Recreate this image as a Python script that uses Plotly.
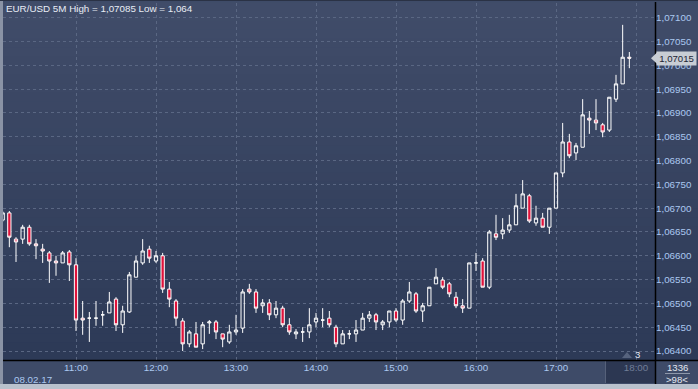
import plotly.graph_objects as go
import pandas as pd

# ---- data (EUR/USD, 5-minute candles, 08.02.17) ----
times = pd.date_range("2017-02-08 10:05", "2017-02-08 17:55", freq="5min")

open_ = [1.06675, 1.06690, 1.06635, 1.06635, 1.06660, 1.06625, 1.06614, 1.06606, 1.06589, 1.06585,
         1.06608, 1.06581, 1.06469, 1.06469, 1.06469, 1.06476, 1.06480, 1.06509, 1.06455, 1.06482,
         1.06555, 1.06585, 1.06614, 1.06589, 1.06600, 1.06530, 1.06505, 1.06463, 1.06415, 1.06436,
         1.06415, 1.06459, 1.06461, 1.06436, 1.06419, 1.06440, 1.06448, 1.06530, 1.06524, 1.06495,
         1.06501, 1.06476, 1.06490, 1.06455, 1.06436, 1.06440, 1.06440, 1.06461, 1.06465, 1.06469,
         1.06450, 1.06415, 1.06436, 1.06436, 1.06444, 1.06469, 1.06476, 1.06455, 1.06461, 1.06484,
         1.06465, 1.06505, 1.06520, 1.06484, 1.06495, 1.06541, 1.06549, 1.06541, 1.06513, 1.06495,
         1.06490, 1.06585, 1.06589, 1.06534, 1.06646, 1.06646, 1.06654, 1.06665, 1.06700, 1.06726,
         1.06669, 1.06679, 1.06660, 1.06700, 1.06774, 1.06839, 1.06816, 1.06828, 1.06889, 1.06885,
         1.06875, 1.06864, 1.06929, 1.06961, 1.07017]
high = [1.06694, 1.06694, 1.06639, 1.06665, 1.06665, 1.06635, 1.06625, 1.06610, 1.06600, 1.06610,
        1.06612, 1.06595, 1.06505, 1.06482, 1.06505, 1.06484, 1.06524, 1.06513, 1.06495, 1.06566,
        1.06600, 1.06635, 1.06621, 1.06610, 1.06606, 1.06545, 1.06509, 1.06469, 1.06444, 1.06461,
        1.06461, 1.06465, 1.06465, 1.06436, 1.06455, 1.06476, 1.06530, 1.06541, 1.06530, 1.06509,
        1.06509, 1.06505, 1.06495, 1.06469, 1.06446, 1.06450, 1.06490, 1.06480, 1.06490, 1.06484,
        1.06455, 1.06444, 1.06444, 1.06465, 1.06480, 1.06484, 1.06480, 1.06465, 1.06484, 1.06490,
        1.06509, 1.06545, 1.06524, 1.06501, 1.06534, 1.06574, 1.06555, 1.06545, 1.06524, 1.06509,
        1.06585, 1.06606, 1.06595, 1.06654, 1.06686, 1.06679, 1.06686, 1.06730, 1.06759, 1.06730,
        1.06705, 1.06690, 1.06700, 1.06774, 1.06879, 1.06856, 1.06837, 1.06929, 1.06904, 1.06929,
        1.06879, 1.06933, 1.06980, 1.07085, 1.07028]
low = [1.06671, 1.06618, 1.06587, 1.06625, 1.06621, 1.06593, 1.06585, 1.06543, 1.06558, 1.06585,
       1.06547, 1.06442, 1.06434, 1.06419, 1.06453, 1.06453, 1.06480, 1.06442, 1.06438, 1.06480,
       1.06555, 1.06581, 1.06585, 1.06585, 1.06522, 1.06492, 1.06453, 1.06400, 1.06408, 1.06408,
       1.06404, 1.06436, 1.06425, 1.06408, 1.06415, 1.06434, 1.06438, 1.06520, 1.06480, 1.06480,
       1.06465, 1.06469, 1.06450, 1.06434, 1.06425, 1.06419, 1.06427, 1.06450, 1.06450, 1.06450,
       1.06408, 1.06415, 1.06425, 1.06419, 1.06444, 1.06461, 1.06444, 1.06444, 1.06450, 1.06461,
       1.06455, 1.06501, 1.06480, 1.06461, 1.06495, 1.06541, 1.06530, 1.06513, 1.06490, 1.06480,
       1.06490, 1.06568, 1.06534, 1.06530, 1.06633, 1.06635, 1.06648, 1.06665, 1.06700, 1.06669,
       1.06663, 1.06660, 1.06646, 1.06700, 1.06765, 1.06805, 1.06801, 1.06828, 1.06856, 1.06864,
       1.06849, 1.06860, 1.06923, 1.06961, 1.06994]
close = [1.06690, 1.06639, 1.06629, 1.06660, 1.06625, 1.06621, 1.06610, 1.06589, 1.06585, 1.06606,
         1.06581, 1.06465, 1.06465, 1.06469, 1.06469, 1.06476, 1.06503, 1.06455, 1.06484, 1.06560,
         1.06589, 1.06610, 1.06595, 1.06600, 1.06530, 1.06509, 1.06469, 1.06415, 1.06440, 1.06408,
         1.06455, 1.06461, 1.06440, 1.06425, 1.06440, 1.06444, 1.06524, 1.06524, 1.06490, 1.06501,
         1.06476, 1.06490, 1.06455, 1.06440, 1.06440, 1.06440, 1.06455, 1.06469, 1.06465, 1.06455,
         1.06415, 1.06436, 1.06436, 1.06444, 1.06469, 1.06476, 1.06461, 1.06461, 1.06484, 1.06465,
         1.06505, 1.06524, 1.06484, 1.06495, 1.06534, 1.06555, 1.06534, 1.06520, 1.06495, 1.06490,
         1.06585, 1.06585, 1.06534, 1.06650, 1.06639, 1.06654, 1.06665, 1.06705, 1.06730, 1.06673,
         1.06679, 1.06660, 1.06700, 1.06774, 1.06839, 1.06810, 1.06831, 1.06896, 1.06885, 1.06879,
         1.06860, 1.06933, 1.06961, 1.07017, 1.07015]

hour_ticks = ["2017-02-08 %02d:00" % h for h in range(11, 19)]
hour_labels = ["11:00", "12:00", "13:00", "14:00", "15:00", "16:00", "17:00",
               '<span style="color:#707d97">18:00</span>']

title_text = "EUR/USD 5M High = 1,07085 Low = 1,064"
date_text = "08.02.17"
bars_text = "1336"
zoom_text = ">98<"

# ---- figure ----
W, H = 698, 389
L, R, T, B = 3, 43, 3, 29
pw, ph = W - L - R, H - T - B


def px_x(x):
    return (x - L) / pw


def px_y(y):
    return (H - B - y) / ph


TICK_COLOR = "#abc8f0"
FONT = "Liberation Sans, Arial, sans-serif"

fig = go.Figure()
fig.add_trace(go.Candlestick(
    x=times, open=open_, high=high, low=low, close=close,
    increasing=dict(line=dict(color="#ffffff", width=1), fillcolor="rgba(0,0,0,0)"),
    decreasing=dict(line=dict(color="#ffffff", width=1), fillcolor="#e0123b"),
    whiskerwidth=0, hoverinfo="skip", showlegend=False,
))

shapes = []
# vertical gradient background for plot area + right panel
top_c = (0x40, 0x4c, 0x69)
bot_c = (0x2d, 0x3a, 0x57)
n = 40
for i in range(n):
    f = i / (n - 1)
    c = tuple(round(bot_c[k] + (top_c[k] - bot_c[k]) * f) for k in range(3))
    shapes.append(dict(type="rect", xref="paper", yref="paper",
                       x0=px_x(0), x1=px_x(W), y0=i / n, y1=(i + 1) / n + 0.002,
                       fillcolor="rgb(%d,%d,%d)" % c, line=dict(width=0), layer="below"))
# left border
shapes.append(dict(type="rect", xref="paper", yref="paper", x0=px_x(0), x1=px_x(3),
                   y0=px_y(H), y1=px_y(0), fillcolor="#8a93a5", line=dict(width=0)))
# top border
shapes.append(dict(type="rect", xref="paper", yref="paper", x0=px_x(0), x1=px_x(W),
                   y0=px_y(1), y1=px_y(0), fillcolor="#2a3245", line=dict(width=0)))
# dark scroll box under last hour
shapes.append(dict(type="rect", xref="paper", yref="paper", x0=px_x(605), x1=px_x(655),
                   y0=px_y(383), y1=px_y(361), fillcolor="#2c3752", line=dict(width=0),
                   layer="below"))
shapes.append(dict(type="line", xref="paper", yref="paper", x0=px_x(605.5), x1=px_x(605.5),
                   y0=px_y(383), y1=px_y(361), line=dict(color="#56617a", width=1)))
# bottom light strip
shapes.append(dict(type="rect", xref="paper", yref="paper", x0=px_x(0), x1=px_x(W),
                   y0=px_y(H), y1=px_y(384), fillcolor="#b9c1cd", line=dict(width=0)))
# black axis lines
shapes.append(dict(type="line", xref="paper", yref="paper", x0=px_x(3), x1=px_x(W),
                   y0=px_y(360.5), y1=px_y(360.5), line=dict(color="#000000", width=1.5)))
shapes.append(dict(type="line", xref="paper", yref="paper", x0=px_x(655.5), x1=px_x(655.5),
                   y0=px_y(384), y1=px_y(2), line=dict(color="#000000", width=1.5)))
# separator between counters
shapes.append(dict(type="line", xref="paper", yref="paper", x0=px_x(665), x1=px_x(690),
                   y0=px_y(373.5), y1=px_y(373.5), line=dict(color="#8e98aa", width=1)))
# small triangle marker
shapes.append(dict(type="path", xref="paper", yref="paper",
                   path="M %f %f L %f %f L %f %f Z" % (px_x(622), px_y(358), px_x(632), px_y(358),
                                                       px_x(627), px_y(352)),
                   fillcolor="#56637e", line=dict(width=0)))
# arrow tip of current-price label
last = close[-1]
shapes.append(dict(type="path", xref="paper", yref="y",
                   path="M %f %f L %f %f L %f %f Z" % (px_x(651), last, px_x(657.5), last + 0.00013,
                                                       px_x(657.5), last - 0.00013),
                   fillcolor="#c8cdd4", line=dict(width=0)))

annotations = [
    dict(text=title_text, xref="paper", yref="paper", x=px_x(4), y=px_y(8.5),
         xanchor="left", yanchor="middle", showarrow=False,
         font=dict(family=FONT, size=9.8, color="#e8edf5")),
    dict(text=date_text, xref="paper", yref="paper", x=px_x(12), y=px_y(379.5),
         xanchor="left", yanchor="middle", showarrow=False,
         font=dict(family=FONT, size=9.8, color=TICK_COLOR)),
    dict(text=bars_text, xref="paper", yref="paper", x=px_x(677), y=px_y(367),
         xanchor="center", yanchor="middle", showarrow=False,
         font=dict(family=FONT, size=9.6, color="#e2e7f0")),
    dict(text=zoom_text, xref="paper", yref="paper", x=px_x(677), y=px_y(379),
         xanchor="center", yanchor="middle", showarrow=False,
         font=dict(family=FONT, size=9.6, color="#e2e7f0")),
    dict(text="3", xref="paper", yref="paper", x=px_x(637), y=px_y(354.5),
         xanchor="center", yanchor="middle", showarrow=False,
         font=dict(family=FONT, size=9.6, color="#e2e7f0")),
    dict(text=("%.5f" % last).replace(".", ","), xref="paper", yref="y",
         x=px_x(676.5), y=last, xanchor="center", yanchor="middle", showarrow=False,
         bgcolor="#c8cdd4", borderpad=1, width=37,
         font=dict(family=FONT, size=9.6, color="#1d2535")),
]

fig.update_layout(
    width=W, height=H,
    margin=dict(l=L, r=R, t=T, b=B, pad=0, autoexpand=False),
    paper_bgcolor="#3e4b68",
    plot_bgcolor="rgba(0,0,0,0)",
    separators=", ",
    shapes=shapes,
    annotations=annotations,
    hovermode=False,
    font=dict(family=FONT, size=9.8, color=TICK_COLOR),
    xaxis=dict(
        type="date",
        range=["2017-02-08 10:05:15", "2017-02-08 18:14:15"],
        rangeslider=dict(visible=False),
        tickmode="array", tickvals=hour_ticks, ticktext=hour_labels,
        showgrid=True, gridcolor="#5a6783", griddash="3px,3px", gridwidth=1,
        zeroline=False, showline=False, ticks="",
        tickfont=dict(family=FONT, size=9.8, color=TICK_COLOR),
    ),
    yaxis=dict(
        side="right",
        range=[1.063811, 1.071309],
        tick0=1.064, dtick=0.0005, tickformat=".5f",
        showgrid=True, gridcolor="#5a6783", griddash="3px,3px", gridwidth=1,
        zeroline=False, showline=False, ticks="",
        tickfont=dict(family=FONT, size=9.8, color=TICK_COLOR),
    ),
)

fig.write_html("out.html", config={"displayModeBar": False},
               post_script="document.body.style.margin='0';document.body.style.padding='0';"
                           "document.documentElement.style.overflow='hidden';")
